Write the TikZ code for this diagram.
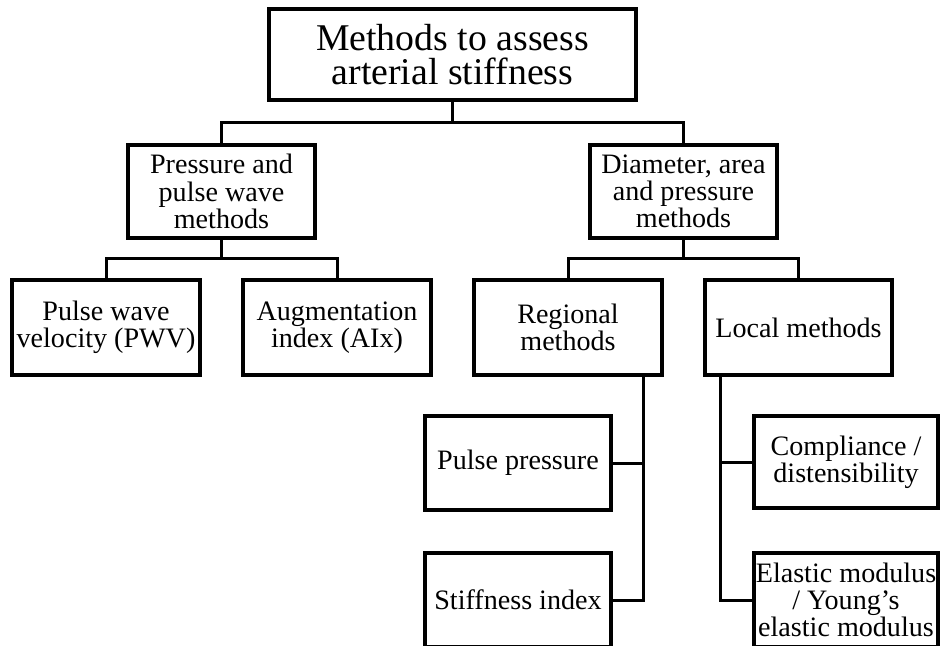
\documentclass[tikz,border=0pt]{standalone}
\usepackage{fontspec}
\setmainfont{Liberation Serif}
\tikzset{box/.style={draw, line width=.08cm, align=center, inner sep=0pt,
    minimum width=3.76cm, minimum height=1.88cm,
    font=\fontsize{16}{15.5}\selectfont},
  link/.style={line width=.06cm}}

\begin{document}
\begin{tikzpicture}[x=.02cm,y=-.02cm]
\useasboundingbox (0,0) rectangle (942,645);
\clip (0,0) rectangle (942,645);
\node[box, minimum width=7.34cm, minimum height=1.82cm,
  font=\fontsize{21.5}{19.5}\selectfont] (root) at (452.5,54.5) {Methods to assess\\arterial stiffness};
\node[box, minimum height=1.86cm] (press) at (221.5,191.5) {Pressure and\\pulse wave\\methods};
\node[box, minimum width=3.74cm, minimum height=1.86cm] (diam) at (683.5,191.5) {Diameter, area\\and pressure\\methods};
\node[box, minimum height=1.9cm] (pwv) at (106,327.5) {Pulse wave\\velocity (PWV)};
\node[box, minimum height=1.9cm] (aix) at (337,327.5) {Augmentation\\index (AIx)};
\node[box, minimum height=1.9cm] (regional) at (568,327.5) {Regional\\methods};
\node[box, minimum height=1.9cm] (local) at (798.5,327.5) {Local methods};
\node[box, minimum width=3.72cm] (pulse) at (518,463) {Pulse pressure};
\node[box, minimum width=3.72cm] (stiff) at (518,600) {Stiffness index};
\node[box, minimum width=3.68cm, minimum height=1.86cm] (compl) at (846,462) {Compliance /\\distensibility};
\node[box, minimum width=3.68cm] (elastic) at (846,600) {Elastic modulus\\/ Young’s\\elastic modulus};
%junctions
\coordinate (j0) at (452.5,123);
\coordinate (j1) at (221.5,258);
\coordinate (j2) at (683.5,258);
\coordinate (t1) at (643,377);
\coordinate (t2) at (720,377);
\draw[link] (root) -- (j0);
\draw[link] (press) |- (j0) -| (diam);
\draw[link] (press) -- (j1);
\draw[link] (pwv) |- (j1) -| (aix);
\draw[link] (diam) -- (j2);
\draw[link] (regional) |- (j2) -| (local);
\draw[link] (t1) |- (pulse);
\draw[link] (t1) |- (stiff);
\draw[link] (t2) |- (compl);
\draw[link] (t2) |- (elastic);
\end{tikzpicture}
\end{document}
